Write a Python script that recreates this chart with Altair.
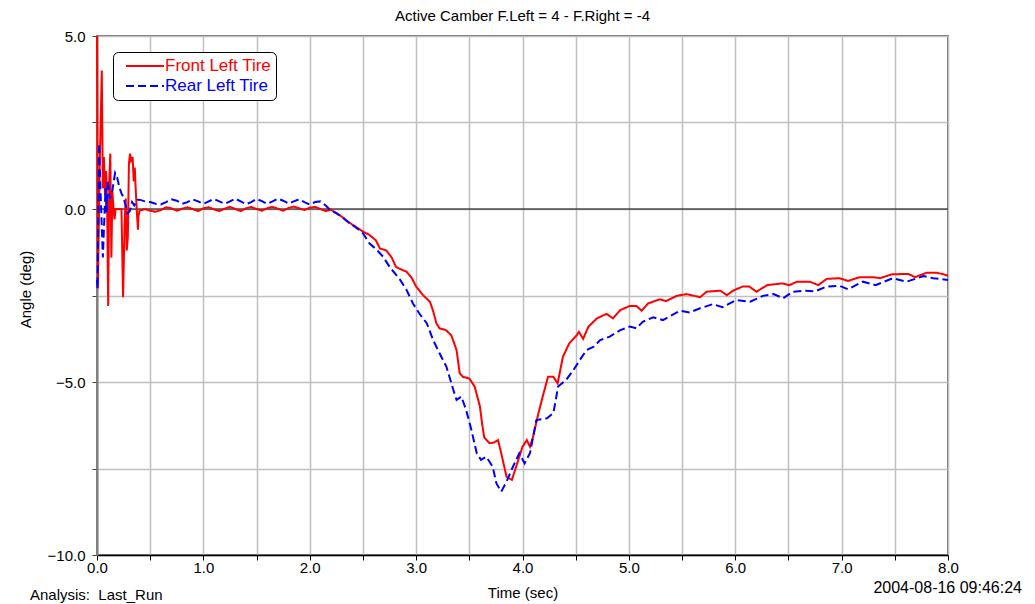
import altair as alt
import pandas as pd

# ---------------- data ----------------
series_names = ["Front Left Tire", "Rear Left Tire"]
series_colors = ["#ff0000", "#0000ff"]

front_t = [0.000, 0.008, 0.025, 0.035, 0.045, 0.055, 0.065, 0.075, 0.085, 0.095,
           0.105, 0.115, 0.125, 0.135, 0.145, 0.155, 0.165, 0.175, 0.185, 0.21,
           0.23, 0.245, 0.26, 0.27, 0.28, 0.29, 0.30, 0.31, 0.32, 0.335,
           0.345, 0.355, 0.365, 0.375, 0.385, 0.39, 0.40,
           0.45, 0.50, 0.55, 0.60, 0.65, 0.70, 0.75, 0.80, 0.85, 0.90,
           0.95, 1.00, 1.05, 1.10, 1.15, 1.20, 1.25, 1.30, 1.35, 1.40,
           1.45, 1.50, 1.55, 1.60, 1.65, 1.70, 1.75, 1.80, 1.85, 1.90,
           1.95, 2.00, 2.05, 2.10, 2.15, 2.20, 2.25, 2.30, 2.35, 2.40,
           2.45, 2.50, 2.56, 2.62, 2.66, 2.72, 2.77, 2.81, 2.86, 2.91,
           2.96, 3.00, 3.065, 3.13, 3.16, 3.19, 3.22, 3.28, 3.33, 3.36,
           3.38, 3.41, 3.44, 3.50, 3.55, 3.60, 3.62, 3.64, 3.69, 3.73,
           3.77, 3.80, 3.85, 3.90, 3.94, 4.00, 4.04, 4.07, 4.10, 4.15,
           4.19, 4.24, 4.29, 4.33, 4.38, 4.44, 4.51, 4.53, 4.57, 4.62,
           4.70, 4.79, 4.85, 4.92, 5.01, 5.07, 5.12, 5.18, 5.29, 5.35,
           5.45, 5.54, 5.60, 5.67, 5.73, 5.86, 5.92, 5.98, 6.07, 6.13,
           6.20, 6.30, 6.44, 6.51, 6.58, 6.70, 6.78, 6.86, 6.98, 7.06,
           7.17, 7.30, 7.36, 7.47, 7.56, 7.63, 7.69, 7.80, 7.89, 7.95,
           8.00]
front_v = [5.0, -2.3, 1.2, 2.6, 4.0, 0.6, 1.5, 0.4, 1.1, 0.2,
           -2.8, 0.8, 1.6, -1.4, 0.5, 0.0, -0.3, 0.0, 0.0, 0.0,
           0.0, -2.55, -0.4, 0.3, -1.2, -0.8, 1.3, 1.6, 1.4, 1.5,
           0.8, 1.2, 0.5, -0.1, -0.6, -0.2, -0.05,
           0.0, -0.05, -0.08, -0.03, 0.05, 0.02, -0.05, 0.01, 0.05, 0.0,
           -0.06, 0.02, 0.05, -0.01, -0.06, 0.01, 0.06, 0.0, -0.06, 0.02,
           0.06, 0.0, -0.05, 0.02, 0.06, 0.01, -0.05, 0.03, 0.07, 0.02,
           -0.03, 0.04, 0.06, 0.0, -0.06, -0.02, -0.12, -0.22, -0.35, -0.45,
           -0.55, -0.65, -0.75, -0.9, -1.14, -1.2, -1.4, -1.67, -1.75, -1.81,
           -2.0, -2.24, -2.49, -2.68, -2.95, -3.3, -3.45, -3.5, -3.65, -3.9,
           -4.08, -4.75, -4.85, -4.9, -5.13, -5.71, -6.2, -6.6, -6.77, -6.75,
           -6.68, -7.06, -7.74, -7.83, -7.45, -6.87, -6.68, -6.87, -6.58, -5.9,
           -5.42, -4.85, -4.85, -5.04, -4.27, -3.88, -3.65, -3.55, -3.75, -3.4,
           -3.16, -3.03, -3.16, -2.92, -2.8, -2.8, -2.94, -2.73, -2.61, -2.66,
           -2.51, -2.46, -2.5, -2.55, -2.39, -2.36, -2.49, -2.36, -2.24, -2.24,
           -2.39, -2.2, -2.15, -2.2, -2.1, -2.1, -2.2, -2.02, -2.0, -2.08,
           -1.97, -1.97, -2.0, -1.89, -1.88, -1.88, -1.97, -1.84, -1.84, -1.88,
           -1.93]

rear_t = [0.000, 0.005, 0.02, 0.03, 0.045, 0.055, 0.07, 0.08, 0.09, 0.10,
          0.12, 0.14, 0.17, 0.19, 0.21, 0.23, 0.245, 0.27, 0.29, 0.31,
          0.33, 0.35, 0.38, 0.40, 0.45, 0.50, 0.55, 0.60, 0.65, 0.70,
          0.75, 0.80, 0.85, 0.90, 0.95, 1.00, 1.05, 1.10, 1.15, 1.20,
          1.25, 1.30, 1.35, 1.40, 1.45, 1.50, 1.55, 1.60, 1.65, 1.70,
          1.75, 1.80, 1.85, 1.90, 1.95, 2.00, 2.05, 2.10, 2.15, 2.20,
          2.25, 2.30, 2.375, 2.44, 2.50, 2.56, 2.62, 2.69, 2.75, 2.85,
          2.91, 2.97, 3.03, 3.10, 3.16, 3.22, 3.285, 3.35, 3.38, 3.425,
          3.47, 3.52, 3.57, 3.61, 3.66, 3.72, 3.755, 3.80, 3.85, 3.91,
          3.97, 4.02, 4.07, 4.13, 4.23, 4.29, 4.335, 4.41, 4.48, 4.54,
          4.60, 4.67, 4.73, 4.82, 4.92, 5.01, 5.07, 5.13, 5.23, 5.32,
          5.48, 5.57, 5.67, 5.79, 5.88, 6.01, 6.14, 6.26, 6.36, 6.45,
          6.54, 6.66, 6.75, 6.86, 6.98, 7.06, 7.20, 7.32, 7.48, 7.61,
          7.77, 7.86, 8.00]
rear_v = [-2.05, -2.3, 1.9, 0.8, -0.5, -1.4, -0.2, 0.6, -0.1, 0.84,
          0.3, 0.45, 1.04, 0.9, 0.63, 0.45, 0.36, 0.1, -0.12, -0.05,
          0.2, 0.1, 0.26, 0.27, 0.22, 0.2, 0.15, 0.13, 0.2, 0.28,
          0.24, 0.15, 0.2, 0.28, 0.22, 0.15, 0.22, 0.29, 0.22, 0.15,
          0.22, 0.3, 0.22, 0.14, 0.2, 0.29, 0.23, 0.15, 0.22, 0.3,
          0.24, 0.16, 0.22, 0.28, 0.2, 0.13, 0.2, 0.22, 0.1, -0.05,
          -0.12, -0.22, -0.41, -0.55, -0.7, -0.99, -1.15, -1.38, -1.67, -2.05,
          -2.34, -2.73, -3.02, -3.3, -3.79, -4.17, -4.56, -5.23, -5.52, -5.42,
          -5.81, -6.39, -7.06, -7.25, -7.16, -7.45, -7.93, -8.17, -7.88, -7.45,
          -7.06, -7.35, -7.06, -6.1, -6.05, -5.9, -5.13, -4.94, -4.65, -4.36,
          -4.08, -3.98, -3.79, -3.69, -3.5, -3.4, -3.45, -3.26, -3.13, -3.21,
          -2.94, -2.99, -2.87, -2.75, -2.84, -2.63, -2.68, -2.51, -2.46, -2.58,
          -2.39, -2.36, -2.38, -2.24, -2.22, -2.32, -2.1, -2.2, -2.0, -2.1,
          -1.94, -2.0, -2.05]

x_tick_values = [0.0, 0.5, 1.0, 1.5, 2.0, 2.5, 3.0, 3.5, 4.0, 4.5, 5.0, 5.5, 6.0, 6.5, 7.0, 7.5, 8.0]
y_tick_values = [-10.0, -7.5, -5.0, -2.5, 0.0, 2.5, 5.0]

title_text = "Active Camber F.Left = 4 - F.Right = -4"
x_title = "Time (sec)"
y_title = "Angle (deg)"
footer_left = "Analysis:\u00a0 Last_Run"
footer_right = "2004-08-16 09:46:24"

FONT = "Liberation Sans"

# ---------------- build tables ----------------
df = pd.concat([
    pd.DataFrame({"t": front_t, "v": front_v, "series": series_names[0], "idx": range(len(front_t))}),
    pd.DataFrame({"t": rear_t, "v": rear_v, "series": series_names[1], "idx": range(len(rear_t))}),
], ignore_index=True)

W, H = 851, 519

legend_kw = dict(
    title=None,
    orient="none",
    legendX=16,
    legendY=16,
    symbolType="stroke",
    symbolSize=1444,
    symbolStrokeWidth=2,
    symbolOffset=8,
    clipHeight=20,
    labelFont=FONT,
    labelFontSize=17,
    labelOffset=0,
    labelColor=alt.ExprRef("datum.value == 'Front Left Tire' ? '#ff0000' : '#0000ff'"),
    strokeColor="#000000",
    fillColor="#ffffff",
    cornerRadius=5,
    padding=4,
    rowPadding=0,
)

x_enc = alt.X("t:Q", scale=alt.Scale(domain=[0, 8], nice=False, zero=False),
              axis=alt.Axis(values=x_tick_values, title=x_title,
                            labelExpr="datum.value % 1 == 0 ? format(datum.value, '.1f') : ''",
                            labelFlush=False, labelOverlap=False, labelPadding=0, tickSize=5,
                            domainColor="#000000", domainWidth=1.5, tickColor="#000000",
                            titleY=37, titleBaseline="middle"))
y_enc = alt.Y("v:Q", scale=alt.Scale(domain=[-10, 5], nice=False, zero=False),
              axis=alt.Axis(values=y_tick_values, title=y_title,
                            labelExpr="datum.value % 5 == 0 ? format(datum.value, '.1f') : ''",
                            labelOverlap=False, labelPadding=7, tickSize=5,
                            domainColor="#808080", domainWidth=2, tickColor="#404040",
                            titleX=-72, titleY=253, titleBaseline="middle"))

lines = alt.Chart(df).mark_line(strokeWidth=2, strokeJoin="miter").encode(
    x=x_enc,
    y=y_enc,
    color=alt.Color("series:N", scale=alt.Scale(domain=series_names, range=series_colors),
                    legend=alt.Legend(**legend_kw)),
    strokeDash=alt.StrokeDash("series:N", scale=alt.Scale(domain=series_names, range=[[1, 0], [8, 4]]),
                              legend=alt.Legend(**legend_kw)),
    order="idx:Q",
)

zero_rule = alt.Chart(pd.DataFrame({"v": [0.0]})).mark_rule(color="#000000", strokeWidth=1).encode(
    y=alt.Y("v:Q")
)

footer_l = alt.Chart(pd.DataFrame({"text": [footer_left]})).mark_text(
    align="left", baseline="middle", font=FONT, fontSize=15, color="#000000"
).encode(text="text:N", x=alt.value(-67), y=alt.value(H + 40))

footer_r = alt.Chart(pd.DataFrame({"text": [footer_right]})).mark_text(
    align="right", baseline="middle", font=FONT, fontSize=16, color="#000000"
).encode(text="text:N", x=alt.value(925), y=alt.value(H + 33))

chart = alt.layer(zero_rule, lines, footer_l, footer_r).properties(
    width=W, height=H,
    title=alt.TitleParams(title_text, font=FONT, fontSize=15, fontWeight="normal", color="#000000",
                          anchor="middle", baseline="alphabetic", offset=13, dy=20),
    padding={"left": 97, "top": 36, "right": 87, "bottom": 49},
    autosize="none",
).configure_view(
    stroke="#404040", strokeWidth=1.5
).configure_axis(
    labelFont=FONT, labelFontSize=15, labelColor="#000000",
    titleFont=FONT, titleFontSize=15, titleFontWeight="normal", titleColor="#000000",
    gridColor="#c0c0c0", gridWidth=1.5, grid=True,
)

chart.save("out.html", embed_options={"renderer": "svg", "actions": False})
